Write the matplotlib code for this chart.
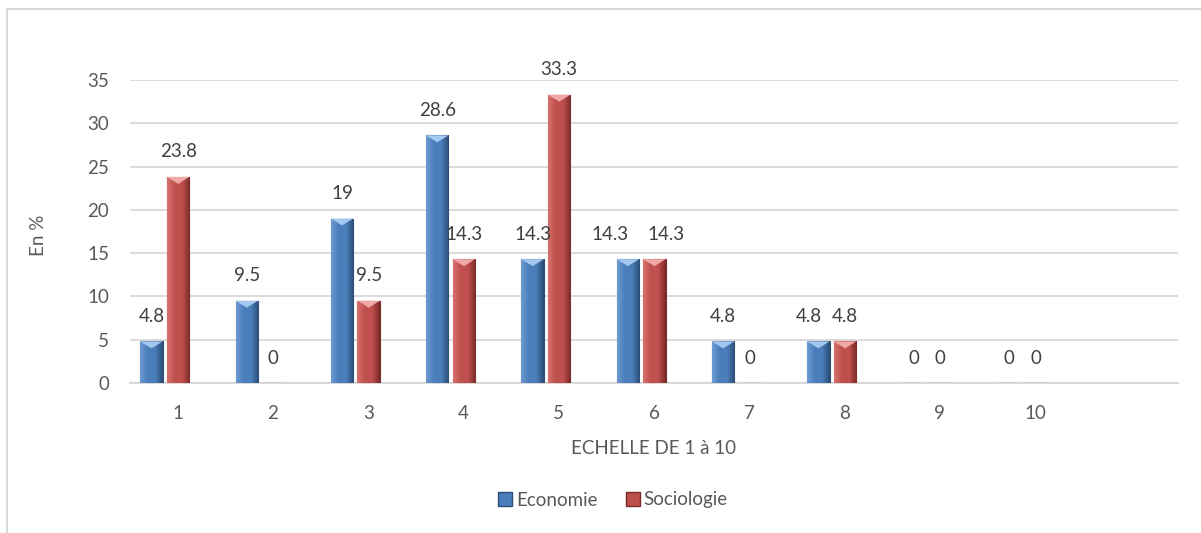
import numpy as np
import matplotlib.pyplot as plt
from matplotlib.patches import Polygon, Patch
from matplotlib.lines import Line2D

# data
categories = [1, 2, 3, 4, 5, 6, 7, 8, 9, 10]
economie = [4.8, 9.5, 19, 28.6, 14.3, 14.3, 4.8, 4.8, 0, 0]
sociologie = [23.8, 0, 9.5, 14.3, 33.3, 14.3, 0, 4.8, 0, 0]
series_names = ["Economie", "Sociologie"]

# small horizontal nudges (points) so neighbouring labels don't collide
eco_label_shift = [0, 0, 0, 0, 0, -13, 0, -7, 0, 0]
soc_label_shift = [0, 0, 0, 0, 0, 8, 0, 0, 0, 0]

plt.rcParams['font.family'] = ['Lato', 'DejaVu Sans']
TXT = '#595959'
FS = 13.5

fig = plt.figure(figsize=(12.01, 5.33), dpi=100)
ax = fig.add_axes([130 / 1201, 150 / 533, 1048 / 1201, 303 / 533])

x = np.array(categories, dtype=float)
width = 0.235
styles = [
    # base, dark edge, light side, top bevel
    ('#4a7ebb', '#2c4d75', '#6f9bd3', '#a3c8f0'),
    ('#c0504d', '#7a2b29', '#d7726f', '#f0a8a6'),
]
offsets = [-0.275, 0.005]

grad = np.linspace(0, 1, 64).reshape(1, -1)
for vals, shifts, (base, dark, light, top), off in zip(
        [economie, sociologie], [eco_label_shift, soc_label_shift], styles, offsets):
    bars = ax.bar(x + off, vals, width, color=base, edgecolor=dark, linewidth=0.8, zorder=3)
    cmap = plt.matplotlib.colors.LinearSegmentedColormap.from_list('g', [light, base, base, dark])
    for b in bars:
        h = b.get_height()
        if h <= 0:
            continue
        x0 = b.get_x()
        w = b.get_width()
        im = ax.imshow(grad, cmap=cmap, aspect='auto', extent=(x0, x0 + w, 0, h), zorder=3.5)
        im.set_clip_path(b)
        tri_h = min(0.8, h)
        ax.add_patch(Polygon([(x0, h), (x0 + w, h), (x0 + w / 2, h - tri_h)],
                             closed=True, facecolor=top, edgecolor='none', zorder=4))
    for b, v, s in zip(bars, vals, shifts):
        ax.annotate('%g' % v, (b.get_x() + b.get_width() / 2, v), xytext=(s, 18),
                    textcoords='offset points', ha='center', va='center',
                    fontsize=FS, color='#404040', zorder=5)

ax.set_xlim(0.5, 11.5)
ax.set_ylim(0, 35)
ax.set_xticks(categories)
ax.set_xticklabels([str(c) for c in categories])
ax.set_yticks(range(0, 36, 5))
ax.tick_params(length=0, labelsize=FS, colors=TXT)
ax.tick_params(axis='x', pad=16)
ax.tick_params(axis='y', pad=15)
ax.grid(axis='y', color='#d9d9d9', linewidth=1.3, zorder=0)
ax.set_axisbelow(True)
for s in ['top', 'right', 'left']:
    ax.spines[s].set_visible(False)
ax.spines['bottom'].set_color('#d9d9d9')
ax.spines['bottom'].set_linewidth(1.6)
ax.set_autoscale_on(False)

ax.set_xlabel("ECHELLE DE 1 à 10", fontsize=FS, color=TXT, labelpad=13)
fig.text(38 / 1201, 1 - 235 / 533, "En %", rotation=90, fontsize=FS, color=TXT,
         ha='center', va='center')

handles = [Patch(facecolor=styles[0][0], edgecolor=styles[0][1]),
           Patch(facecolor=styles[1][0], edgecolor=styles[1][1])]
fig.legend(handles, series_names, loc='center', bbox_to_anchor=(613 / 1201, 1 - 500 / 533),
           ncol=2, frameon=False, fontsize=FS, handlelength=0.75, handleheight=0.75,
           handletextpad=0.2, columnspacing=1.5, labelcolor=TXT)

# chart area border (light gray frame)
fig.add_artist(Line2D([7 / 1201, 1], [1 - 9 / 533, 1 - 9 / 533], color='#d9d9d9', linewidth=1.5))
fig.add_artist(Line2D([7 / 1201, 7 / 1201], [0, 1 - 9 / 533], color='#d9d9d9', linewidth=1.5))

fig.savefig('out.png', dpi=100)
